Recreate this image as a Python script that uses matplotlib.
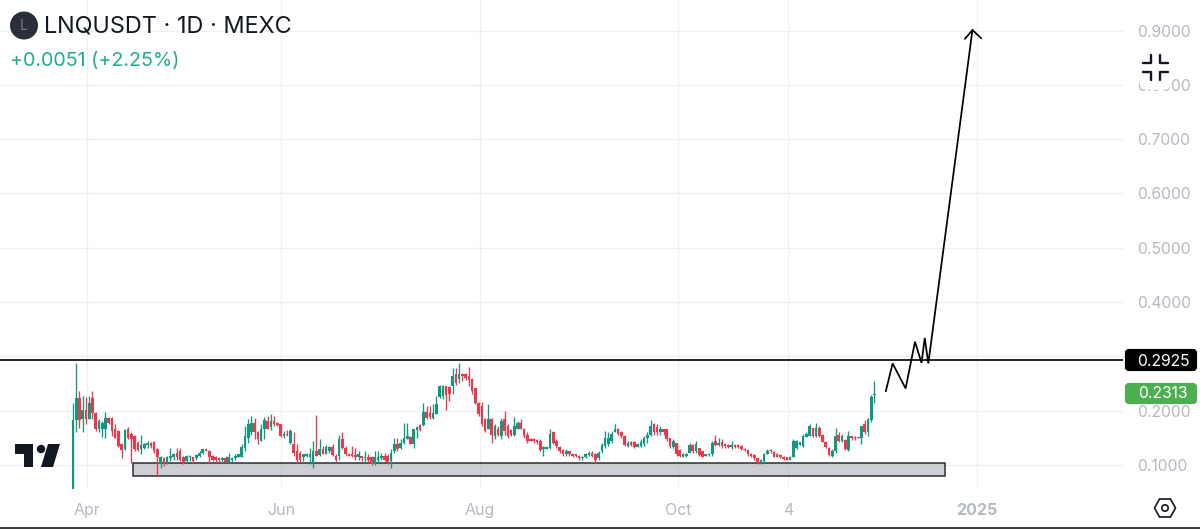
import matplotlib
matplotlib.use("Agg")
import matplotlib.pyplot as plt
from matplotlib.patches import Polygon, Circle, Rectangle, FancyBboxPatch

plt.rcParams['font.family'] = ['Inter', 'DejaVu Sans']

opens = [.056,.183,.224,.184,.202,.184,.224,.196,.167,.167,
 .166,.187,.186,.166,.163,.139,.129,.166,.158,.153,
 .141,.129,.132,.137,.141,.142,.129,.102,.112,.104,
 .112,.114,.123,.126,.114,.107,.114,.114,.112,.117,
 .123,.129,.126,.117,.114,.112,.109,.112,.106,.109,
 .112,.115,.115,.132,.150,.160,.178,.161,.145,.166,
 .181,.170,.181,.178,.175,.153,.158,.141,.138,.126,
 .123,.114,.117,.114,.104,.126,.118,.129,.121,.126,
 .133,.117,.117,.147,.132,.121,.120,.118,.114,.117,
 .112,.114,.114,.101,.109,.112,.117,.117,.107,.126,
 .138,.131,.141,.148,.152,.139,.164,.174,.174,.198,
 .196,.186,.194,.225,.227,.245,.243,.245,.267,.258,
 .267,.267,.264,.259,.241,.215,.209,.184,.167,.184,
 .153,.167,.153,.184,.172,.164,.156,.167,.178,.167,
 .156,.147,.147,.146,.144,.129,.130,.132,.160,.145,
 .133,.127,.120,.125,.121,.120,.117,.112,.114,.118,
 .123,.120,.112,.125,.135,.138,.144,.160,.167,.161,
 .153,.135,.142,.143,.134,.135,.138,.150,.155,.175,
 .170,.160,.166,.166,.149,.133,.141,.127,.115,.117,
 .123,.137,.125,.131,.125,.117,.118,.120,.144,.137,
 .143,.138,.137,.133,.137,.136,.135,.129,.127,.121,
 .118,.112,.103,.107,.120,.127,.124,.121,.118,.115,
 .114,.110,.115,.132,.137,.135,.152,.154,.168,.154,
 .168,.156,.143,.132,.117,.125,.156,.145,.146,.127,
 .153,.152,.152,.150,.175,.160,.183,.228]
highs = [.215,.288,.237,.227,.225,.227,.237,.198,.184,.181,
 .198,.188,.188,.175,.164,.141,.167,.170,.160,.155,
 .144,.155,.141,.144,.142,.144,.132,.117,.114,.117,
 .132,.123,.132,.132,.117,.118,.118,.115,.120,.126,
 .130,.130,.127,.119,.117,.114,.114,.117,.123,.114,
 .120,.121,.138,.172,.184,.190,.187,.163,.175,.188,
 .190,.194,.190,.179,.176,.163,.164,.166,.161,.138,
 .126,.121,.123,.132,.144,.192,.147,.135,.137,.135,
 .138,.120,.156,.161,.135,.123,.135,.132,.126,.117,
 .126,.120,.117,.126,.126,.123,.123,.120,.129,.150,
 .150,.147,.178,.178,.153,.166,.172,.175,.215,.209,
 .209,.212,.227,.248,.248,.245,.245,.279,.278,.288,
 .270,.270,.280,.261,.242,.216,.216,.187,.213,.186,
 .175,.172,.187,.199,.175,.166,.188,.181,.184,.169,
 .160,.149,.149,.147,.147,.135,.135,.166,.163,.147,
 .135,.129,.129,.126,.123,.120,.119,.117,.123,.126,
 .126,.123,.126,.141,.163,.160,.163,.175,.169,.163,
 .156,.144,.144,.144,.141,.147,.153,.160,.182,.178,
 .175,.172,.167,.167,.150,.147,.141,.129,.123,.123,
 .141,.138,.144,.132,.126,.121,.123,.144,.156,.150,
 .147,.141,.138,.144,.138,.138,.137,.131,.129,.123,
 .120,.114,.111,.123,.129,.129,.126,.123,.121,.117,
 .115,.117,.148,.146,.143,.157,.160,.175,.169,.177,
 .172,.157,.145,.134,.129,.168,.160,.157,.148,.163,
 .154,.154,.152,.172,.182,.186,.228,.255]
lows = [.056,.160,.169,.160,.175,.184,.184,.163,.160,.152,
 .150,.175,.153,.149,.133,.112,.127,.147,.104,.126,
 .125,.121,.129,.132,.132,.123,.080,.095,.098,.101,
 .107,.110,.110,.107,.101,.104,.107,.104,.110,.114,
 .120,.125,.104,.107,.104,.106,.104,.103,.104,.106,
 .110,.114,.114,.126,.141,.156,.147,.139,.144,.147,
 .166,.164,.172,.172,.151,.150,.153,.138,.117,.104,
 .106,.107,.114,.101,.094,.117,.117,.120,.120,.123,
 .117,.104,.110,.129,.117,.117,.114,.110,.110,.107,
 .104,.104,.100,.100,.104,.110,.107,.101,.095,.123,
 .126,.129,.138,.147,.138,.132,.150,.163,.172,.184,
 .184,.184,.193,.223,.221,.202,.218,.230,.248,.251,
 .255,.256,.245,.230,.212,.190,.172,.160,.166,.141,
 .147,.153,.147,.156,.150,.153,.153,.166,.166,.150,
 .141,.144,.141,.138,.126,.117,.129,.129,.138,.132,
 .123,.117,.117,.117,.114,.114,.110,.110,.112,.117,
 .114,.104,.110,.123,.132,.135,.141,.160,.156,.150,
 .135,.134,.135,.131,.133,.133,.135,.141,.153,.156,
 .156,.156,.156,.144,.132,.132,.117,.114,.114,.114,
 .123,.123,.123,.117,.114,.117,.117,.117,.135,.135,
 .132,.132,.131,.129,.132,.131,.127,.126,.117,.115,
 .110,.102,.102,.104,.120,.123,.114,.114,.112,.109,
 .109,.109,.114,.129,.136,.134,.151,.154,.151,.151,
 .151,.142,.132,.117,.115,.122,.142,.142,.127,.126,
 .146,.146,.150,.139,.157,.154,.179,.215]
closes = [.183,.224,.183,.202,.184,.215,.196,.167,.181,.178,
 .187,.178,.162,.150,.135,.127,.164,.150,.147,.129,
 .127,.136,.138,.141,.135,.126,.114,.114,.101,.114,
 .117,.121,.114,.110,.104,.117,.117,.107,.118,.123,
 .129,.126,.114,.110,.109,.109,.112,.106,.114,.112,
 .117,.120,.133,.153,.175,.178,.160,.147,.166,.182,
 .167,.181,.175,.174,.153,.158,.155,.163,.123,.109,
 .109,.120,.121,.120,.126,.117,.129,.120,.133,.133,
 .118,.110,.147,.132,.120,.117,.117,.114,.120,.112,
 .114,.110,.102,.114,.114,.117,.110,.106,.123,.138,
 .129,.141,.149,.153,.139,.166,.170,.164,.198,.186,
 .188,.196,.212,.245,.245,.229,.230,.264,.251,.267,
 .264,.261,.256,.236,.215,.194,.175,.163,.184,.156,
 .172,.156,.181,.163,.153,.155,.172,.178,.167,.153,
 .144,.145,.144,.143,.127,.133,.133,.158,.141,.135,
 .125,.120,.126,.120,.117,.117,.112,.115,.120,.123,
 .117,.109,.123,.137,.150,.150,.158,.167,.158,.153,
 .137,.141,.137,.133,.138,.143,.150,.155,.172,.160,
 .160,.167,.160,.147,.135,.144,.120,.117,.120,.121,
 .137,.126,.138,.118,.115,.120,.121,.141,.137,.141,
 .135,.135,.133,.137,.134,.134,.129,.127,.120,.117,
 .112,.104,.109,.120,.126,.125,.115,.115,.115,.111,
 .109,.114,.145,.144,.142,.154,.157,.171,.154,.169,
 .154,.143,.134,.119,.126,.154,.145,.154,.129,.154,
 .150,.149,.150,.171,.160,.185,.226,.2313]

price_ticks = [0.1, 0.2, 0.3, 0.4, 0.5, 0.6, 0.7, 0.8, 0.9]
price_labels = ['0.1000', '0.2000', '', '0.4000', '0.5000', '0.6000', '0.7000', '0.8000', '0.9000']
date_ticks = [4.3, 64.1, 125.4, 186.4, 220.3, 278.6]
date_labels = ['Apr', 'Jun', 'Aug', 'Oct', '4', '2025']
level_price = 0.2925
last_price = 0.2313
zone_days = [18.5, 268.7]
zone_prices = [0.080, 0.104]
path_days = [250.5, 252.6, 256.6, 259.5, 261.5, 262.5, 263.6, 277.2]
path_prices = [0.236, 0.287, 0.241, 0.327, 0.288, 0.334, 0.287, 0.901]
head_days = [274.9, 277.2, 279.9]
head_prices = [0.885, 0.901, 0.886]

GREEN = '#0f9a80'
RED = '#e8394f'
GRID = '#eef0f3'
AXIS_TEXT = '#b5b9c0'
W, H = 1200, 529

fig = plt.figure(figsize=(W / 100, H / 100), dpi=100, facecolor='white')
ax = fig.add_axes([0, 40 / H, 1123 / W, 488 / H])
ax.set_xlim(-22.5, 323.6)
ax.set_ylim(0.0558, 0.9545)
for s in ax.spines.values():
    s.set_visible(False)
ax.yaxis.tick_right()
ax.set_yticks(price_ticks, price_labels)
ax.set_xticks(date_ticks, date_labels)
ax.tick_params(axis='y', length=0, pad=10, labelsize=11.3, labelcolor=AXIS_TEXT)
ax.tick_params(axis='x', length=0, pad=10, labelsize=11.5, labelcolor=AXIS_TEXT)
ax.get_xticklabels()[-1].set_fontweight('bold')
ax.grid(True, color=GRID, lw=1)
ax.set_axisbelow(True)

ax.add_patch(Rectangle((zone_days[0], zone_prices[0]), zone_days[1] - zone_days[0],
                       zone_prices[1] - zone_prices[0], facecolor=(0.58, 0.59, 0.63, 0.45),
                       edgecolor='#2b2d35', lw=1.1, zorder=2))

for i, (o, h, l, c) in enumerate(zip(opens, highs, lows, closes)):
    col = GREEN if c >= o else RED
    ax.vlines(i, l, h, color=col, lw=0.95, zorder=3)
    ax.bar(i, abs(c - o), bottom=min(o, c), width=0.8, color=col, lw=0, zorder=3)

ax.axhline(level_price, color='black', lw=1.2, zorder=4)
ax.plot(path_days, path_prices, color='black', lw=1.25, zorder=5, solid_joinstyle='miter')
ax.plot(head_days, head_prices, color='black', lw=1.25, zorder=5)

# pixel overlay for the interface furniture
ov = fig.add_axes([0, 0, 1, 1], facecolor='none')
ov.set_xlim(0, W)
ov.set_ylim(H, 0)
ov.axis('off')

ov.plot([0, W], [527.7, 527.7], color='black', lw=1.1)

# header
ov.add_patch(Circle((24, 25.5), 13.3, color='#2a2e39'))
ov.text(24, 26, 'L', color='#787b86', fontsize=10, ha='center', va='center')
ov.text(44, 27, 'LNQUSDT · 1D · MEXC', color='#131722', fontsize=16.9, va='center', ha='left')
ov.text(10, 61, '+0.0051 (+2.25%)', color='#22ab94', fontsize=14.2, va='center', ha='left')

# price tags
ov.add_patch(FancyBboxPatch((1127, 351), 68, 18, boxstyle='round,pad=0,rounding_size=2',
                            facecolor='black', edgecolor='black', lw=3))
ov.add_patch(FancyBboxPatch((1127, 385), 68, 17, boxstyle='round,pad=0,rounding_size=2',
                            facecolor='#4caf50', edgecolor='#4caf50', lw=3))
ov.text(1163, 361, f'{level_price:.4f}', color='white', fontsize=11.3, ha='center', va='center')
ov.text(1163, 394, f'{last_price:.4f}', color='white', fontsize=11.3, ha='center', va='center')

# expand icon
ov.add_patch(FancyBboxPatch((1140, 46), 31, 43, boxstyle='round,pad=0,rounding_size=8',
                            facecolor='white', edgecolor='white', lw=1))
for xs, ys in [((1143, 1151, 1151), (63, 63, 55)), ((1160, 1160, 1168), (55, 63, 63)),
               ((1143, 1151, 1151), (72, 72, 80)), ((1168, 1160, 1160), (72, 72, 80))]:
    ov.plot(xs, ys, color='#131722', lw=1.7, solid_joinstyle='round', solid_capstyle='round')

# settings icon
ov.add_patch(Polygon([(1154.5, 508), (1159.5, 499), (1170.5, 499), (1175.5, 508),
                      (1170.5, 517), (1159.5, 517)], closed=True, facecolor='none',
                     edgecolor='#131722', lw=1.2))
ov.add_patch(Circle((1165, 508), 3.2, facecolor='none', edgecolor='#131722', lw=1.2))

# TradingView mark
LOGO = '#131722'
ov.add_patch(Polygon([(15, 444), (33, 444), (33, 467), (24, 467), (24, 454), (15, 454)], color=LOGO, lw=0))
ov.add_patch(Circle((41, 449), 4.2, color=LOGO, lw=0))
ov.add_patch(Polygon([(48, 444), (60, 444), (53, 467), (41, 467)], color=LOGO, lw=0))

fig.savefig('out.png', dpi=100)
